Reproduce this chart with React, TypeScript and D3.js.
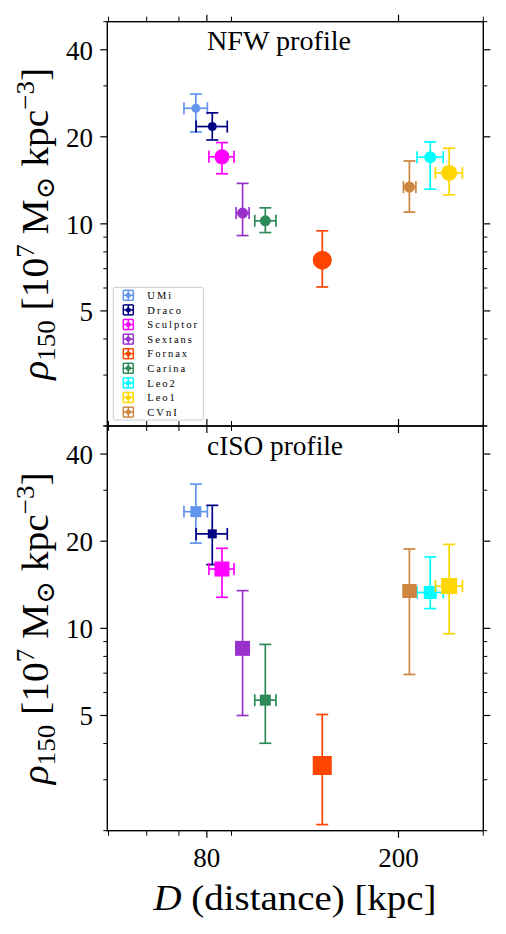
import React from 'react';
import * as d3 from 'd3';

// dwarf spheroidals, in legend order
const galaxies = ['UMi', 'Draco', 'Sculptor', 'Sextans', 'Fornax', 'Carina', 'Leo2', 'Leo1', 'CVnI'];
const colors = ['#6495ED', '#000080', '#FF00FF', '#9932CC', '#FF4500', '#2E8B57', '#00FFFF', '#FFD700', '#CD853F'];

// distance [kpc] with lower / upper bounds
const distance = [75.9, 82.1, 86.0, 94.9, 138.9, 105.8, 232.8, 254.8, 210.7];
const distanceLo = [71.7, 76.0, 80.8, 92.0, 136.5, 100.6, 218.5, 238.6, 204.8];
const distanceHi = [80.2, 88.2, 91.1, 97.9, 141.5, 111.3, 247.7, 271.5, 217.3];

// rho_150 [1e7 Msun kpc^-3], NFW fit
const nfwRho = [25.1, 21.7, 17.05, 10.9, 7.49, 10.24, 17.0, 15.0, 13.4];
const nfwLo = [20.8, 19.5, 14.9, 9.11, 6.05, 9.33, 13.18, 12.6, 10.98];
const nfwHi = [28.1, 24.2, 19.1, 13.8, 9.46, 11.36, 19.2, 18.26, 16.5];

// rho_150, cored isothermal fit
const cisoRho = [25.3, 21.2, 16.03, 8.53, 3.36, 5.65, 13.3, 14.0, 13.46];
const cisoLo = [19.7, 16.6, 12.8, 5.0, 2.1, 4.01, 11.7, 9.58, 6.93];
const cisoHi = [31.5, 26.6, 18.9, 13.5, 5.04, 8.8, 17.65, 19.5, 18.8];

const xMajor = [80, 200];
const xMinor = [50, 60, 70, 90, 300];
const yMajor = [5, 10, 20, 40];
const yMinor = [2, 3, 4, 6, 7, 8, 9, 30, 50];

// marker diameters in px (style only)
const circleSize = [9, 9, 15, 11, 19, 11, 12, 16, 11];
const squareSize = [11, 9, 15, 15, 19, 11, 13, 16, 14];

const FONT = '"Liberation Serif", "DejaVu Serif", serif';
const LEFT = 107.3;
const RIGHT = 483.3;
const CAP = 6;
const LW = 1.7;

const x = d3.scaleLog().domain([49.7, 300]).range([LEFT, RIGHT]);

function Panel({top, bottom, rho, lo, hi, sizes, square, title, titleLen, legend, xLabels}) {
    const y = d3.scaleLog().domain([2, 50]).range([bottom, top]);
    const cy = (top + bottom) / 2;
    return (
        <g>
            {/* error bars + markers, one series after another */}
            {galaxies.map((g, i) => {
                const cx = x(distance[i]);
                const yy = y(rho[i]);
                const c = colors[i];
                const s = sizes[i];
                return (
                    <g key={g} stroke={c} strokeWidth={LW} fill={c}>
                        <line x1={cx} x2={cx} y1={y(lo[i])} y2={y(hi[i])}/>
                        <line x1={cx - CAP} x2={cx + CAP} y1={y(lo[i])} y2={y(lo[i])}/>
                        <line x1={cx - CAP} x2={cx + CAP} y1={y(hi[i])} y2={y(hi[i])}/>
                        <line x1={x(distanceLo[i])} x2={x(distanceHi[i])} y1={yy} y2={yy}/>
                        <line x1={x(distanceLo[i])} x2={x(distanceLo[i])} y1={yy - CAP} y2={yy + CAP}/>
                        <line x1={x(distanceHi[i])} x2={x(distanceHi[i])} y1={yy - CAP} y2={yy + CAP}/>
                        {square
                            ? <rect x={cx - s / 2} y={yy - s / 2} width={s} height={s} stroke="none"/>
                            : <circle cx={cx} cy={yy} r={s / 2} stroke="none"/>}
                    </g>
                );
            })}

            {/* frame */}
            <rect x={LEFT} y={top} width={RIGHT - LEFT} height={bottom - top} fill="none" stroke="#000" strokeWidth={1.4}/>

            {/* y ticks both sides, pointing out */}
            {yMajor.map(v => (
                <g key={'ym' + v} stroke="#000" strokeWidth={1.2}>
                    <line x1={LEFT - 7} x2={LEFT} y1={y(v)} y2={y(v)}/>
                    <line x1={RIGHT} x2={RIGHT + 7} y1={y(v)} y2={y(v)}/>
                </g>
            ))}
            {yMinor.map(v => (
                <g key={'yn' + v} stroke="#000" strokeWidth={1}>
                    <line x1={LEFT - 4} x2={LEFT} y1={y(v)} y2={y(v)}/>
                    <line x1={RIGHT} x2={RIGHT + 4} y1={y(v)} y2={y(v)}/>
                </g>
            ))}
            {yMajor.map(v => (
                <text key={'yl' + v} x={93} y={y(v) + 10} textAnchor="end" fontSize={27} fontFamily={FONT}>{v}</text>
            ))}

            {/* x ticks top and bottom */}
            {xMajor.map(v => (
                <g key={'xm' + v} stroke="#000" strokeWidth={1.2}>
                    <line x1={x(v)} x2={x(v)} y1={top - 7} y2={top}/>
                    <line x1={x(v)} x2={x(v)} y1={bottom} y2={bottom + 7}/>
                </g>
            ))}
            {xMinor.map(v => (
                <g key={'xn' + v} stroke="#000" strokeWidth={1}>
                    <line x1={x(v)} x2={x(v)} y1={top - 5} y2={top}/>
                    <line x1={x(v)} x2={x(v)} y1={bottom} y2={bottom + 5}/>
                </g>
            ))}
            {xLabels && xMajor.map(v => (
                <text key={'xl' + v} x={x(v)} y={bottom + 36} textAnchor="middle" fontSize={27} fontFamily={FONT}>{v}</text>
            ))}

            <text x={207} y={top + 28.5} fontSize={27} fontFamily={FONT} textLength={titleLen} lengthAdjust="spacingAndGlyphs">{title}</text>

            <text transform={`translate(47.5, ${cy}) rotate(-90)`} textAnchor="middle" fontSize={38} fontFamily={FONT}
                  textLength={312} lengthAdjust="spacingAndGlyphs">
                <tspan fontStyle="italic">ρ</tspan>
                <tspan fontSize={26} dy={7}>150</tspan>
                <tspan dy={-7}>{' [10'}</tspan>
                <tspan fontSize={26} dy={-14}>7</tspan>
                <tspan dy={14}>{' M'}</tspan>
                <tspan fontSize={26} dy={6}>⊙</tspan>
                <tspan dy={-6}>{' kpc'}</tspan>
                <tspan fontSize={26} dy={-14}>−3</tspan>
                <tspan dy={14}>]</tspan>
            </text>

            {legend && <Legend/>}
        </g>
    );
}

function Legend() {
    const x0 = 113.3, y0 = 287.3, w = 90, h = 132.7;
    const step = 14.6;
    return (
        <g>
            <rect x={x0} y={y0} width={w} height={h} rx={2} fill="#fff" fillOpacity={0.8} stroke="#cccccc" strokeWidth={1}/>
            {galaxies.map((g, i) => {
                const cy = y0 + 8 + i * step;
                const cx = 128.3;
                const c = colors[i];
                const a = 5;
                return (
                    <g key={g}>
                        <g stroke={c} strokeWidth={1.5} fill={c}>
                            <line x1={cx - a} x2={cx + a} y1={cy} y2={cy}/>
                            <line x1={cx} x2={cx} y1={cy - a} y2={cy + a}/>
                            <line x1={cx - a} x2={cx - a} y1={cy - a} y2={cy + a}/>
                            <line x1={cx + a} x2={cx + a} y1={cy - a} y2={cy + a}/>
                            <line x1={cx - a} x2={cx + a} y1={cy - a} y2={cy - a}/>
                            <line x1={cx - a} x2={cx + a} y1={cy + a} y2={cy + a}/>
                            <circle cx={cx} cy={cy} r={2.5} stroke="none"/>
                        </g>
                        <text x={147.3} y={cy + 3.7} fontSize={10.5} letterSpacing={2} fontFamily={FONT}>{g}</text>
                    </g>
                );
            })}
        </g>
    );
}

export default function App() {
    return (
        <div style={{position: 'absolute', left: 0, top: 0}}>
            <svg width={506} height={934} style={{display: 'block', background: '#fff'}}>
                <Panel top={21.7} bottom={426} rho={nfwRho} lo={nfwLo} hi={nfwHi} sizes={circleSize}
                       square={false} title="NFW profile" titleLen={144} legend={true} xLabels={false}/>
                <Panel top={426} bottom={830.7} rho={cisoRho} lo={cisoLo} hi={cisoHi} sizes={squareSize}
                       square={true} title="cISO profile" titleLen={136} legend={false} xLabels={true}/>
                <text x={295} y={910} textAnchor="middle" fontSize={36} fontFamily={FONT}
                      textLength={283} lengthAdjust="spacingAndGlyphs">
                    <tspan fontStyle="italic">D</tspan>
                    <tspan>{' (distance) [kpc]'}</tspan>
                </text>
            </svg>
        </div>
    );
}
